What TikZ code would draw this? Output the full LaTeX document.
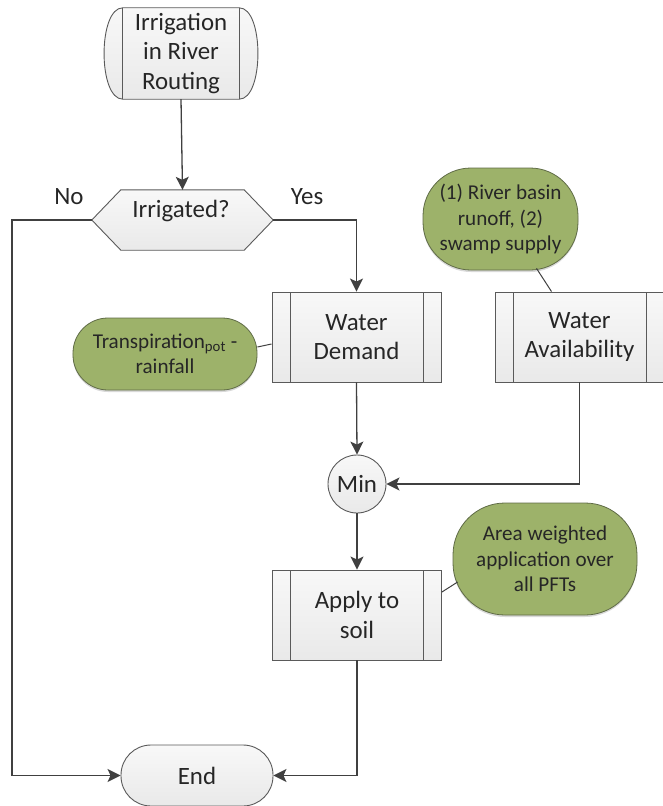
\documentclass[tikz,border=0pt]{standalone}
\usepackage{fontspec}
\setmainfont{Carlito}
\usetikzlibrary{arrows.meta,backgrounds,shadows}
\definecolor{ln}{HTML}{404040}
\definecolor{bd}{HTML}{5A5A5A}
\definecolor{txt}{HTML}{262626}
\definecolor{boxtop}{HTML}{F8F8F8}
\definecolor{boxbot}{HTML}{E9E9E9}
\definecolor{grn}{HTML}{9DB26A}
\definecolor{grnbd}{HTML}{5F6B46}
\newcommand{\mainsize}{\fontsize{25}{29.5}\selectfont}
\newcommand{\grnsize}{\fontsize{21.2}{25.5}\selectfont}
\begin{document}
\begin{tikzpicture}[x=1bp,y=-1bp,
  every node/.style={text=txt},
  conn/.style={draw=ln,line width=1.3bp,-{Stealth[length=13bp,width=13bp,inset=3bp]}},
  plain/.style={draw=ln,line width=1bp},
  shapeline/.style={draw=bd,line width=0.9bp},
  graybox/.style={shapeline,top color=boxtop,bottom color=boxbot},
  procbox/.style={graybox,minimum width=169bp,minimum height=90bp,inner sep=0pt,align=center,font=\mainsize,
    path picture={\draw[bd,line width=0.9bp]
      ([xshift=18bp]path picture bounding box.north west) -- ([xshift=18bp]path picture bounding box.south west)
      ([xshift=-18bp]path picture bounding box.north east) -- ([xshift=-18bp]path picture bounding box.south east);}},
  note/.style={draw=grnbd,line width=0.8bp,fill=grn,align=center,font=\grnsize,inner sep=0pt,
    drop shadow={opacity=0.3,shadow xshift=0bp,shadow yshift=-2bp}},
  lbl/.style={font=\mainsize}
]
\useasboundingbox (0,0) rectangle (663,806);

% start node
\node[minimum width=116bp,minimum height=91bp,inner sep=0pt,align=center,font=\mainsize] (start) at (181,53.5) {Irrigation\\in River\\Routing};
\begin{scope}[on background layer]
\path[graybox] (start.north west) -- (start.north east)
  .. controls +(25,0) and +(25,0) .. (start.south east) -- (start.south west)
  .. controls +(-25,0) and +(-25,0) .. (start.north west) -- cycle;
\draw[shapeline] (start.north west) -- (start.south west) (start.north east) -- (start.south east);
\end{scope}

% decision
\node[minimum width=181bp,minimum height=60bp,inner sep=0pt] (dec) at (182.5,220) {};
\node[font=\mainsize,inner sep=0pt] (dectext) at (181,211) {Irrigated?};
\begin{scope}[on background layer]
\path[graybox] (dec.west) -- ([xshift=29bp]dec.north west) -- ([xshift=-29bp]dec.north east) -- (dec.east)
  -- ([xshift=-29bp]dec.south east) -- ([xshift=29bp]dec.south west) -- cycle;
\end{scope}

\node[lbl] (no) at (69,197) {No};
\node[lbl] (yes) at (307,197) {Yes};

% process boxes
\node[procbox] (wd) at (356.5,337) {Water\\Demand};
\node[procbox] (wa) at (579.5,337) {Water\\Availability};
\node[procbox] (ap) at (357,615) {Apply to\\soil};

% min
\node[graybox,circle,minimum size=58bp,inner sep=0pt,font=\mainsize] (min) at (357,484) {Min};

% end
\node[graybox,rounded corners=30bp,minimum width=152bp,minimum height=61bp,inner sep=0pt,font=\mainsize] (end) at (197,775.5) {End};

% notes
\node[note,rounded corners=35bp,minimum width=184bp,minimum height=72bp] (tr) at (165,354) {Transpiration\textsubscript{pot} -\\rainfall};
\node[note,rounded corners=48bp,minimum width=155bp,minimum height=102bp] (rb) at (500.5,219) {(1) River basin\\runoff, (2)\\swamp supply};
\node[note,rounded corners=52bp,minimum width=184bp,minimum height=112bp] (aw) at (545,559) {Area weighted\\application over\\all PFTs};

% note connectors
\draw[plain] ([yshift=7bp]tr.east) -- ([yshift=-7bp]wd.west);
\draw[plain] ([xshift=36bp,yshift=2bp]rb.south) -- ([xshift=-28bp]wa.north);
\draw[plain] ([xshift=5bp,yshift=-23bp]aw.west) -- ([yshift=23bp]ap.east);

% flow connectors
\coordinate (nocorner) at (12,220);
\draw[conn] (start.south) -- (dec.north);
\draw[conn] (dec.west) -- (nocorner) |- (end.west);
\draw[conn] (dec.east) -| (wd.north);
\draw[conn] (wd.south) -- (min.north);
\draw[conn] (wa.south) |- (min.east);
\draw[conn] (min.south) -- (ap.north);
\draw[conn] (ap.south) |- (end.east);
\end{tikzpicture}
\end{document}
